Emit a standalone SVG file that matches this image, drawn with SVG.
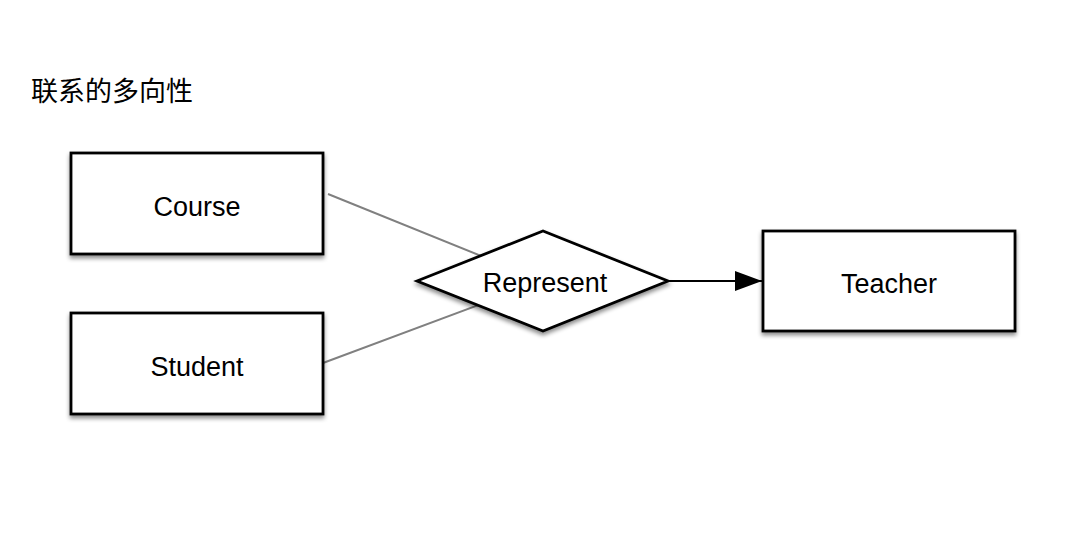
<svg xmlns="http://www.w3.org/2000/svg" width="1070" height="560" viewBox="0 0 1070 560">
<style>
.box{fill:#fff;stroke:#000;stroke-width:2.8;filter:url(#sh)}
.lbl{font-family:"Liberation Sans",Arial,sans-serif;font-size:27px;fill:#000;text-anchor:middle}
.link{stroke:#808080;stroke-width:2;fill:none}
.arrow{stroke:#000;stroke-width:2;fill:none}
.title{font-family:"Noto Sans CJK SC","Liberation Sans",sans-serif;font-size:27px;fill:#000}
</style>
<defs>
<filter id="sh" x="-20%" y="-20%" width="140%" height="150%">
<feDropShadow dx="0" dy="3" stdDeviation="2" flood-color="#000" flood-opacity="0.45"/>
</filter>
<marker id="ah" markerWidth="28" markerHeight="20" refX="27" refY="10" orient="auto" markerUnits="userSpaceOnUse">
<path d="M0,0 L27,10 L0,20 Z" fill="#000"/>
</marker>
</defs>
<rect width="1070" height="560" fill="#fff"/>
<text class="title" x="31" y="101">联系的多向性</text>
<g id="connectors">
<line class="link" x1="328" y1="194" x2="543" y2="281"/>
<line class="link" x1="323" y1="363" x2="543" y2="281"/>
<line class="arrow" x1="668" y1="281" x2="762" y2="281" marker-end="url(#ah)"/>
</g>
<g id="course">
<rect class="box" x="71" y="153" width="252" height="101"/>
<text class="lbl" x="197" y="216">Course</text>
</g>
<g id="student">
<rect class="box" x="71" y="313" width="252" height="101"/>
<text class="lbl" x="197" y="376">Student</text>
</g>
<g id="represent">
<polygon class="box" points="417,281 543,231 668,281 543,331"/>
<text class="lbl" x="545" y="292">Represent</text>
</g>
<g id="teacher">
<rect class="box" x="763" y="231" width="252" height="100"/>
<text class="lbl" x="889" y="293">Teacher</text>
</g>
</svg>
